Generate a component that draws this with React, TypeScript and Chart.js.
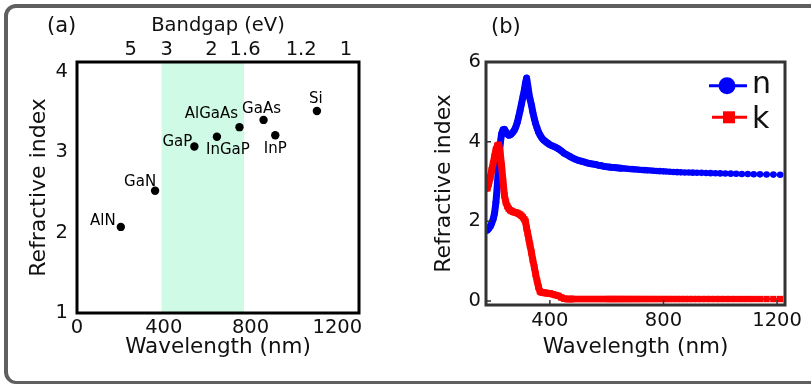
import React, { useEffect, useRef } from 'react';
import { Chart, registerables } from 'chart.js';

Chart.register(...registerables);

const FONT = '"DejaVu Sans", Verdana, sans-serif';

// ---------- Panel (a) data ----------
const materials = ['AlN', 'GaN', 'GaP', 'InGaP', 'AlGaAs', 'GaAs', 'InP', 'Si'];
const materialWavelength = [202, 360, 541, 645, 749, 860, 914, 1106];
const materialIndex = [2.07, 2.52, 3.07, 3.19, 3.31, 3.4, 3.21, 3.51];
const wavelengthTicksA = [0, 400, 800, 1200];
const indexTicksA = [1, 2, 3, 4];
const bandgapTicks = [5, 3, 2, 1.6, 1.2, 1];
const bandgapLabels = ['5', '3', '2', '1.6', '1.2', '1'];
const visibleRange = [390, 770];
const HC_EV_NM = 1240;

// label placement (style only): offsets from each point, px
const labelOffsets = [
  [-18, -6], [-15, -9], [-17, -4], [11, 13], [-28, -13], [-2, -11], [0, 13.5], [-1, -12],
];

// ---------- Panel (b) data ----------
const wavelengthB = [
  180, 185, 190, 195, 200, 205, 210, 215, 220, 225, 230, 235, 240, 245, 250, 255, 260, 265, 270, 275,
  280, 285, 290, 295, 300, 305, 310, 314, 318, 322, 326, 330, 335, 340, 345, 350, 355, 360, 365, 370,
  375, 380, 385, 390, 395, 400, 410, 420, 430, 440, 450, 460, 470, 480, 490, 500, 510, 520, 530, 540,
  550, 560, 570, 580, 590, 600, 607, 613, 620, 627, 634, 641, 649, 656, 664, 672, 680, 689, 697, 706,
  715, 725, 734, 744, 755, 765, 776, 787, 799, 810, 822, 835, 848, 861, 875, 889, 903, 918, 934, 950,
  966, 983, 1000, 1018, 1037, 1056, 1076, 1097, 1118, 1140, 1163, 1187, 1211,
];
const nValues = [
  1.78, 1.82, 1.87, 1.95, 2.05, 2.2, 2.48, 2.92, 3.48, 3.95, 4.2, 4.3, 4.31, 4.25, 4.19, 4.16, 4.17, 4.2, 4.24, 4.29,
  4.37, 4.48, 4.62, 4.78, 4.95, 5.12, 5.3, 5.47, 5.6, 5.42, 5.22, 5.07, 4.92, 4.74, 4.58, 4.45, 4.34, 4.24, 4.17, 4.11,
  4.06, 4.03, 4.0, 3.97, 3.95, 3.92, 3.89, 3.86, 3.82, 3.77, 3.71, 3.67, 3.63, 3.59, 3.56, 3.53, 3.51, 3.49, 3.47, 3.45,
  3.44, 3.43, 3.41, 3.4, 3.38, 3.37, 3.365, 3.36, 3.355, 3.35, 3.345, 3.34, 3.335, 3.33, 3.325, 3.32, 3.315, 3.31, 3.305, 3.3,
  3.295, 3.29, 3.285, 3.28, 3.275, 3.27, 3.265, 3.26, 3.255, 3.25, 3.245, 3.24, 3.235, 3.23, 3.228, 3.225, 3.222, 3.22, 3.217, 3.214,
  3.21, 3.207, 3.204, 3.2, 3.197, 3.194, 3.19, 3.187, 3.184, 3.18, 3.177, 3.174, 3.17,
];
const kValues = [
  2.83, 2.95, 3.1, 3.28, 3.45, 3.62, 3.8, 3.9, 3.92, 3.72, 3.4, 3.0, 2.65, 2.48, 2.38, 2.32, 2.28, 2.26, 2.24, 2.23,
  2.22, 2.21, 2.19, 2.17, 2.14, 2.1, 2.05, 2.0, 1.83, 1.7, 1.55, 1.4, 1.22, 1.03, 0.85, 0.67, 0.5, 0.35, 0.24, 0.22,
  0.21, 0.21, 0.2, 0.2, 0.19, 0.19, 0.17, 0.15, 0.13, 0.09, 0.06, 0.05, 0.05, 0.05, 0.05, 0.05, 0.05, 0.05, 0.05, 0.05,
  0.05, 0.05, 0.05, 0.05, 0.05, 0.05, 0.05, 0.05, 0.05, 0.05, 0.05, 0.05, 0.05, 0.05, 0.05, 0.05, 0.05, 0.05, 0.05, 0.05,
  0.05, 0.05, 0.05, 0.05, 0.05, 0.05, 0.05, 0.05, 0.05, 0.05, 0.05, 0.05, 0.05, 0.05, 0.05, 0.05, 0.05, 0.05, 0.05, 0.05,
  0.05, 0.05, 0.05, 0.05, 0.05, 0.05, 0.05, 0.05, 0.05, 0.05, 0.05, 0.05, 0.05,
];
const wavelengthTicksB = [400, 800, 1200];
const indexTicksB = [0, 2, 4, 6];
const legendLabels = ['n', 'k'];

const BLUE = '#0000ff';
const RED = '#ff0000';
const BAND = '#cefae6';

const tickFont = { family: FONT, size: 19.5 };
const titleFont = { family: FONT, size: 21.5 };

const setTicks = (vals: number[]) => (s: any) => {
  s.ticks = vals.map((v) => ({ value: v }));
};
const plainLabel = (v: any) => String(v);

// ---------- Panel (a) ----------
const panelAPlugin = {
  id: 'panelA',
  beforeDatasetsDraw(chart: any) {
    const { ctx, chartArea, scales } = chart;
    const x0 = scales.x.getPixelForValue(visibleRange[0]);
    const x1 = scales.x.getPixelForValue(visibleRange[1]);
    ctx.save();
    ctx.fillStyle = BAND;
    ctx.fillRect(x0, chartArea.top, x1 - x0, chartArea.bottom - chartArea.top);
    ctx.restore();
  },
  afterDatasetsDraw(chart: any) {
    const { ctx } = chart;
    const meta = chart.getDatasetMeta(0);
    ctx.save();
    ctx.font = `15px ${FONT}`;
    ctx.fillStyle = '#000';
    ctx.textAlign = 'center';
    ctx.textBaseline = 'middle';
    meta.data.forEach((pt: any, i: number) => {
      ctx.fillText(materials[i], pt.x + labelOffsets[i][0], pt.y + labelOffsets[i][1]);
    });
    ctx.restore();
  },
  afterDraw(chart: any) {
    const { ctx, chartArea } = chart;
    ctx.save();
    ctx.strokeStyle = '#000';
    ctx.lineWidth = 3;
    ctx.strokeRect(chartArea.left, chartArea.top, chartArea.right - chartArea.left, chartArea.bottom - chartArea.top);
    ctx.font = `21px ${FONT}`;
    ctx.fillStyle = '#111';
    ctx.textAlign = 'left';
    ctx.textBaseline = 'middle';
    ctx.fillText('(a)', 47, 26.5);
    ctx.restore();
  },
};

function buildA(): any {
  return {
    type: 'scatter',
    data: {
      datasets: [
        {
          data: materialWavelength.map((x, i) => ({ x, y: materialIndex[i] })),
          pointRadius: 4.2,
          pointBackgroundColor: '#000',
          pointBorderWidth: 0,
          showLine: false,
        },
      ],
    },
    options: {
      animation: false,
      responsive: false,
      events: [],
      layout: { padding: { left: 0, right: 41, top: 0, bottom: 0 } },
      plugins: { legend: { display: false }, tooltip: { enabled: false } },
      scales: {
        x: {
          type: 'linear',
          position: 'bottom',
          min: 0,
          max: 1300,
          afterBuildTicks: setTicks(wavelengthTicksA),
          afterFit: (s: any) => { s.height = 71; },
          grid: { display: false, drawTicks: false },
          border: { display: false },
          ticks: { autoSkip: false, maxRotation: 0, minRotation: 0, padding: 3.5, color: '#111', font: tickFont, callback: plainLabel },
          title: { display: true, text: 'Wavelength (nm)', color: '#111', font: titleFont, padding: { top: 0, bottom: 24 } },
        },
        x2: {
          type: 'linear',
          position: 'top',
          min: 0,
          max: 1300,
          afterBuildTicks: (s: any) => {
            s.ticks = bandgapTicks.map((e) => ({ value: HC_EV_NM / e }));
          },
          afterFit: (s: any) => { s.height = 62; },
          grid: { display: false, drawTicks: false },
          border: { display: false },
          ticks: {
            autoSkip: false, maxRotation: 0, minRotation: 0, padding: 2.2, color: '#111',
            font: { family: FONT, size: 19.5, lineHeight: 1 },
            callback: (_v: any, i: number) => bandgapLabels[i],
          },
          title: { display: true, text: 'Bandgap (eV)', color: '#111', font: { family: FONT, size: 19.5 }, padding: { top: 14, bottom: 0 } },
        },
        y: {
          type: 'linear',
          position: 'left',
          min: 1,
          max: 4.12,
          afterBuildTicks: setTicks(indexTicksA),
          afterFit: (s: any) => { s.width = 77; },
          grid: { display: false, drawTicks: false },
          border: { display: false },
          ticks: { autoSkip: false, padding: 9, color: '#111', font: tickFont, callback: plainLabel },
          title: { display: true, text: 'Refractive index', color: '#111', font: { family: FONT, size: 22 }, padding: { top: 26, bottom: 0 } },
        },
      },
    },
    plugins: [panelAPlugin],
  };
}

// ---------- Panel (b) ----------
const panelBPlugin = {
  id: 'panelB',
  afterDraw(chart: any) {
    const { ctx, chartArea, scales } = chart;
    const { left, right, top, bottom } = chartArea;
    ctx.save();
    // inward ticks
    ctx.strokeStyle = '#333';
    ctx.lineWidth = 1.5;
    ctx.beginPath();
    scales.y.ticks.forEach((t: any) => {
      const y = scales.y.getPixelForValue(t.value);
      ctx.moveTo(left, y);
      ctx.lineTo(left + 5, y);
    });
    scales.x.ticks.forEach((t: any) => {
      const x = scales.x.getPixelForValue(t.value);
      ctx.moveTo(x, bottom);
      ctx.lineTo(x, bottom - 5);
    });
    ctx.stroke();
    // frame
    ctx.strokeStyle = '#333';
    ctx.lineWidth = 3;
    ctx.strokeRect(left, top, right - left, bottom - top);
    // legend
    const rows = [
      { color: BLUE, y: top + 23.7, lx0: right - 76, lx1: right - 38, mx: right - 58, style: 'circle', ty: top + 31.3 },
      { color: RED, y: top + 55.3, lx0: right - 73, lx1: right - 38, mx: right - 56, style: 'rect', ty: top + 66.3 },
    ];
    rows.forEach((r, i) => {
      ctx.strokeStyle = r.color;
      ctx.fillStyle = r.color;
      ctx.lineWidth = 3;
      ctx.beginPath();
      ctx.moveTo(r.lx0, r.y);
      ctx.lineTo(r.lx1, r.y);
      ctx.stroke();
      if (r.style === 'circle') {
        ctx.beginPath();
        ctx.arc(r.mx, r.y, 8.5, 0, Math.PI * 2);
        ctx.fill();
      } else {
        ctx.fillRect(r.mx - 6, r.y - 6, 12, 12);
      }
      ctx.fillStyle = '#111';
      ctx.font = `30px ${FONT}`;
      ctx.textAlign = 'left';
      ctx.textBaseline = 'alphabetic';
      ctx.fillText(legendLabels[i], right - 33, r.ty);
    });
    // panel label
    ctx.font = `21px ${FONT}`;
    ctx.fillStyle = '#111';
    ctx.textBaseline = 'middle';
    ctx.fillText('(b)', 91, 27.7);
    ctx.restore();
  },
};

// dense-sampling look: where the measured points crowd together the trace merges into a thick band
const denseWidth = (limit: number) => (ctx: any) => (ctx.p1.parsed.x <= limit ? 7 : 2);

function buildB(): any {
  return {
    type: 'line',
    data: {
      datasets: [
        {
          label: legendLabels[1],
          data: wavelengthB.map((x, i) => ({ x, y: kValues[i] })),
          borderColor: RED,
          borderWidth: 2,
          borderJoinStyle: 'round',
          borderCapStyle: 'round',
          segment: { borderWidth: denseWidth(480) },
          pointStyle: 'rect',
          pointRadius: 4.5,
          pointBackgroundColor: RED,
          pointBorderWidth: 0,
          tension: 0,
          order: 0,
        },
        {
          label: legendLabels[0],
          data: wavelengthB.map((x, i) => ({ x, y: nValues[i] })),
          borderColor: BLUE,
          borderWidth: 2,
          borderJoinStyle: 'round',
          borderCapStyle: 'round',
          segment: { borderWidth: denseWidth(650) },
          pointStyle: 'circle',
          pointRadius: 3.3,
          pointBackgroundColor: BLUE,
          pointBorderWidth: 0,
          tension: 0,
          order: 1,
        },
      ],
    },
    options: {
      animation: false,
      responsive: false,
      events: [],
      layout: { padding: { left: 0, right: 26, top: 62, bottom: 0 } },
      plugins: { legend: { display: false }, tooltip: { enabled: false } },
      scales: {
        x: {
          type: 'linear',
          position: 'bottom',
          min: 175,
          max: 1228,
          afterBuildTicks: setTicks(wavelengthTicksB),
          afterFit: (s: any) => { s.height = 79; },
          grid: { display: false, drawTicks: false },
          border: { display: false },
          ticks: { autoSkip: false, maxRotation: 0, minRotation: 0, padding: 4.5, color: '#111', font: tickFont, callback: plainLabel },
          title: { display: true, text: 'Wavelength (nm)', color: '#111', font: titleFont, padding: { top: 0, bottom: 24 } },
        },
        y: {
          type: 'linear',
          position: 'left',
          min: -0.1,
          max: 6,
          afterBuildTicks: setTicks(indexTicksB),
          afterFit: (s: any) => { s.width = 86; },
          grid: { display: false, drawTicks: false },
          border: { display: false },
          ticks: { autoSkip: false, padding: 5, color: '#111', font: tickFont, callback: plainLabel },
          title: { display: true, text: 'Refractive index', color: '#111', font: { family: FONT, size: 22 }, padding: { top: 31, bottom: 0 } },
        },
      },
    },
    plugins: [panelBPlugin],
  };
}

function ChartCanvas({ left, width, build }: { left: number; width: number; build: () => any }) {
  const ref = useRef<HTMLCanvasElement | null>(null);
  useEffect(() => {
    if (!ref.current) return;
    const chart = new Chart(ref.current, build());
    return () => chart.destroy();
  }, [build]);
  return (
    <canvas
      ref={ref}
      width={width}
      height={384}
      style={{ position: 'absolute', left, top: 0, width, height: 384, display: 'block' }}
    />
  );
}

export default function App() {
  return (
    <div
      style={{
        position: 'fixed',
        left: 0,
        top: 0,
        width: 811,
        height: 384,
        overflow: 'hidden',
        background: '#fff',
      }}
    >
      <div
        style={{
          position: 'absolute',
          left: 4,
          top: 4,
          width: 1000,
          height: 379.5,
          boxSizing: 'border-box',
          borderStyle: 'solid',
          borderColor: '#5f5f5f',
          borderWidth: '4px 4px 3px 4px',
          borderRadius: 12,
        }}
      />
      <ChartCanvas left={0} width={400} build={buildA} />
      <ChartCanvas left={400} width={411} build={buildB} />
    </div>
  );
}
